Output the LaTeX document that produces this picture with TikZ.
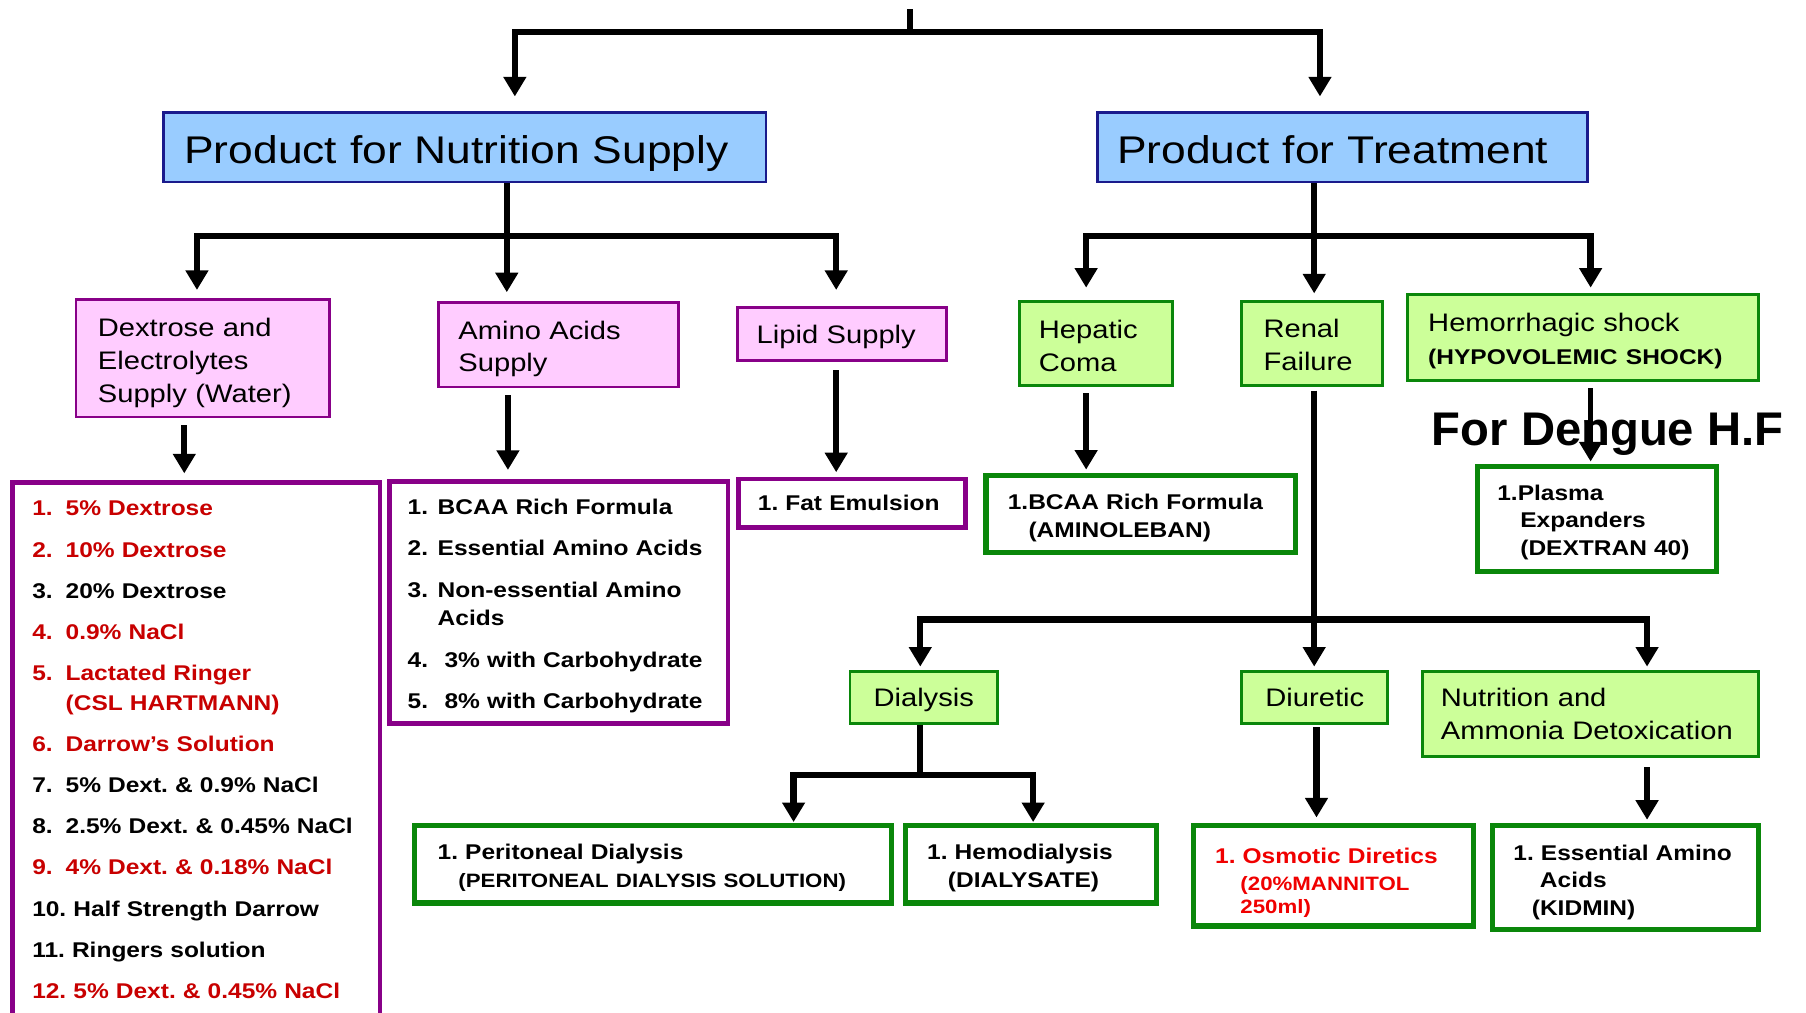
\documentclass[tikz,border=0pt]{standalone}
\usepackage{fontspec}
\setmainfont{Liberation Sans}[FakeStretch=1.15]
\newfontfamily\denguefont{Liberation Sans}
\usetikzlibrary{arrows.meta}

\definecolor{blueF}{HTML}{99CCFF}
\definecolor{navyD}{HTML}{1A1A8C}
\definecolor{pinkF}{HTML}{FFCCFF}
\definecolor{purpD}{HTML}{880088}
\definecolor{greenF}{HTML}{CCFF99}
\definecolor{greenD}{HTML}{0A870A}
\definecolor{redL}{HTML}{C80000}
\definecolor{redB}{HTML}{F00000}

\newcommand{\ttlfont}{\fontsize{33.5}{40}\selectfont}
\newcommand{\catfont}{\fontsize{22}{28.5}\selectfont}
\newcommand{\lstfont}{\fontsize{18.5}{26}\selectfont\bfseries}
\newcommand{\prdfont}{\fontsize{18.5}{24}\selectfont\bfseries}
\newcommand{\smlfont}{\fontsize{16.8}{20}\selectfont}
\newcommand{\topfix}[1]{\rule{0pt}{#1}}

\tikzset{
  conn/.style={line width=5.5pt},
  arr/.style={line width=5.5pt, -{Triangle[width=19pt,length=17pt]}},
  titlebox/.style={draw=navyD, fill=blueF, line width=2.5pt, font=\ttlfont, align=left, inner ysep=0pt, text height=30pt, text depth=2pt},
  pinkbox/.style={draw=purpD, fill=pinkF, line width=2.5pt, font=\catfont, align=left, inner ysep=0pt},
  greenbox/.style={draw=greenD, fill=greenF, line width=2.5pt, font=\catfont, align=left, inner ysep=0pt},
  oneline/.style={text height=17.8pt, text depth=2pt},
  listbox/.style={draw=purpD, fill=white, line width=4pt, font=\lstfont, align=left, inner ysep=0pt},
  prodbox/.style={draw=greenD, fill=white, line width=4.5pt, font=\prdfont, align=left, inner ysep=0pt},
}

\begin{document}
\frenchspacing
\begin{tikzpicture}[x=1pt, y=-1pt]
  \useasboundingbox (0,0) rectangle (1568,879.5);
  \clip (0,0) rectangle (1568,879.5);

  % two main groups
  \node[titlebox, minimum width=523pt, minimum height=60pt, inner xsep=18pt, text width=487pt] (nut) at (403.5,128) {Product for Nutrition Supply};
  \node[titlebox, minimum width=425pt, minimum height=60pt, inner xsep=17pt, text width=391pt] (trt) at (1165.5,128) {Product for Treatment};

  % nutrition supply
  \node[pinkbox, minimum width=220pt, minimum height=102pt, inner xsep=19pt, text width=182pt] (dex) at (176,311) {\topfix{24pt}Dextrose and\\Electrolytes\\Supply (Water)};
  \node[pinkbox, minimum width=208pt, minimum height=73pt, inner xsep=17pt, text width=174pt] (amino) at (485,299.5) {\topfix{23pt}Amino Acids\\Supply};
  \node[pinkbox, oneline, minimum width=182pt, minimum height=46pt, inner xsep=17pt, text width=148pt] (lipid) at (731,290) {Lipid Supply};

  \node[listbox, minimum width=319pt, minimum height=464pt, inner xsep=17pt, text width=285pt] (dexlist) at (170.5,651) {%
    \color{redL}\makebox[29pt][l]{1.}5\% Dextrose\\[9.7pt]
    \makebox[29pt][l]{2.}10\% Dextrose\\[9.7pt]
    \color{black}\makebox[29pt][l]{3.}20\% Dextrose\\[9.7pt]
    \color{redL}\makebox[29pt][l]{4.}0.9\% NaCl\\[9.7pt]
    \makebox[29pt][l]{5.}Lactated Ringer\\
    \hspace*{29pt}(CSL HARTMANN)\\[9.7pt]
    \makebox[29pt][l]{6.}Darrow's Solution\\[9.7pt]
    \color{black}\makebox[29pt][l]{7.}5\% Dext. \& 0.9\% NaCl\\[9.7pt]
    \makebox[29pt][l]{8.}2.5\% Dext. \& 0.45\% NaCl\\[9.7pt]
    \color{redL}\makebox[29pt][l]{9.}4\% Dext. \& 0.18\% NaCl\\[9.7pt]
    \color{black}10. Half Strength Darrow\\[9.7pt]
    11. Ringers solution\\[9.7pt]
    \color{redL}12. 5\% Dext. \& 0.45\% NaCl};
  \node[listbox, font=\fontsize{18.5}{25}\selectfont\bfseries, minimum width=294pt, minimum height=210pt, inner xsep=16pt, text width=262pt] (aminolist) at (485,523) {%
    \topfix{19.5pt}\makebox[26pt][l]{1.}BCAA Rich Formula\\[11pt]
    \makebox[26pt][l]{2.}Essential Amino Acids\\[11pt]
    \makebox[26pt][l]{3.}Non-essential Amino\\
    \hspace*{26pt}Acids\\[11pt]
    \makebox[32pt][l]{4.}3\% with Carbohydrate\\[11pt]
    \makebox[32pt][l]{5.}8\% with Carbohydrate};
  \node[listbox, text height=15.2pt, text depth=2pt, minimum width=197pt, minimum height=42pt, inner xsep=17pt, text width=163pt] (fat) at (739.5,437) {1. Fat Emulsion};

  % treatment
  \node[greenbox, minimum width=133pt, minimum height=73pt, inner xsep=17pt, text width=99pt] (hep) at (951.5,298.5) {\topfix{20pt}Hepatic\\Coma};
  \node[greenbox, minimum width=122pt, minimum height=73pt, inner xsep=19pt, text width=84pt] (renal) at (1139,298.5) {\topfix{18pt}Renal\\Failure};
  \node[greenbox, minimum width=305pt, minimum height=74pt, inner xsep=18pt, text width=269pt] (hemo) at (1374.5,293) {\topfix{22pt}Hemorrhagic shock\\{\bfseries\fontsize{18.5}{29}\selectfont(HYPOVOLEMIC SHOCK)}};

  \node[prodbox, minimum width=269pt, minimum height=67pt, inner xsep=19pt, text width=231pt] (hepprod) at (990.5,446.5) {\topfix{19.5pt}1.BCAA Rich Formula\\\hspace*{18pt}(AMINOLEBAN)};
  \node[prodbox, minimum width=207pt, minimum height=91pt, inner xsep=17pt, text width=173pt] (plasma) at (1386.5,450.5) {\topfix{19.5pt}1.Plasma\\\hspace*{20pt}Expanders\\\hspace*{20pt}(DEXTRAN 40)};
  \node[anchor=base west, inner sep=0pt, font=\denguefont\bfseries\fontsize{41}{45}\selectfont] (dengue) at (1243,387) {For Dengue H.F};

  % renal failure branches
  \node[greenbox, oneline, align=center, minimum width=128pt, minimum height=45pt, inner xsep=14pt, text width=100pt] (dial) at (802,605.5) {Dialysis};
  \node[greenbox, oneline, align=center, minimum width=127pt, minimum height=45pt, inner xsep=13.5pt, text width=100pt] (diur) at (1141.5,605.5) {Diuretic};
  \node[greenbox, minimum width=292pt, minimum height=74pt, inner xsep=16pt, text width=260pt] (ammo) at (1381,620) {Nutrition and\\Ammonia Detoxication};

  \node[prodbox, minimum width=414pt, minimum height=67pt, inner xsep=20pt, text width=374pt] (perit) at (567,750.5) {\topfix{19.5pt}1. Peritoneal Dialysis\\{\smlfont\hspace*{18pt}(PERITONEAL DIALYSIS SOLUTION)}};
  \node[prodbox, minimum width=218pt, minimum height=67pt, inner xsep=19pt, text width=180pt] (hemod) at (895,750.5) {\topfix{19.5pt}1. Hemodialysis\\\hspace*{18pt}(DIALYSATE)};
  \node[prodbox, text=redB, font=\fontsize{18.5}{23}\selectfont\bfseries, minimum width=243pt, minimum height=87pt, inner xsep=19pt, text width=205pt] (osm) at (1157.5,760.5) {\topfix{25.5pt}1. Osmotic Diretics\\{\smlfont\hspace*{22pt}(20\%MANNITOL}\\[-3pt]{\smlfont\hspace*{22pt}250ml)}};
  \node[prodbox, minimum width=231pt, minimum height=90pt, inner xsep=18pt, text width=195pt] (kid) at (1411.5,762) {\topfix{21.5pt}1. Essential Amino\\\hspace*{23pt}Acids\\\hspace*{16pt}(KIDMIN)};

  % connectors: top
  \coordinate (root) at (790,8);
  \coordinate (rootJ) at (790,28);
  \draw[conn] (root) -- (rootJ);
  \draw[arr, shorten >=13pt] (rootJ) -| (nut.north -| 447,0);
  \draw[arr, shorten >=13pt] (rootJ) -| (trt.north -| 1146,0);

  % connectors: nutrition supply
  \coordinate (nutJ) at (440,205);
  \draw[arr, shorten >=8pt] (nut.south -| nutJ) -- (amino.north -| nutJ);
  \draw[arr, shorten >=7pt] (nutJ) -| (dex.north -| 171,0);
  \draw[arr, shorten >=14pt] (nutJ) -| (lipid.north -| 726,0);
  \draw[arr, shorten <=6pt, shorten >=6pt] (dex.south -| 160,0) -- (dexlist.north -| 160,0);
  \draw[arr, shorten <=6pt, shorten >=8pt] (amino.south -| 441,0) -- (aminolist.north -| 441,0);
  \draw[arr, shorten <=7pt, shorten >=4pt] (lipid.south -| 726,0) -- (fat.north -| 726,0);

  % connectors: treatment
  \coordinate (trtJ) at (1141,205);
  \draw[arr, shorten >=6pt] (trt.south -| trtJ) -- (renal.north -| trtJ);
  \draw[arr, shorten >=11pt] (trtJ) -| (hep.north -| 943,0);
  \draw[arr, shorten >=5pt] (trtJ) -| (hemo.north -| 1381,0);
  \draw[arr, shorten <=5pt, shorten >=3pt] (hep.south -| 943,0) -- (hepprod.north -| 943,0);
  \draw[arr, line width=4.5pt, shorten <=6pt, shorten >=2pt] (hemo.south -| 1381,0) -- (plasma.north -| 1381,0);

  % connectors: renal failure
  \coordinate (renJ) at (1141,538);
  \draw[arr, shorten <=3pt, shorten >=3pt] (renal.south -| renJ) -- (diur.north -| renJ);
  \draw[arr, shorten >=3pt] (renJ) -| (dial.north -| 799,0);
  \draw[arr, shorten >=3pt] (renJ) -| (ammo.north -| 1430,0);
  \coordinate (dialJ) at (799,673);
  \draw[conn] (dial.south -| dialJ) -- (dialJ);
  \draw[arr, shorten >=1pt] (dialJ) -| (perit.north -| 689,0);
  \draw[arr, shorten >=1pt] (dialJ) -| (hemod.north -| 897,0);
  \draw[arr, shorten <=2pt, shorten >=5pt] (diur.south -| 1143,0) -- (osm.north -| 1143,0);
  \draw[arr, shorten <=8pt, shorten >=3pt] (ammo.south -| 1430,0) -- (kid.north -| 1430,0);
\end{tikzpicture}
\end{document}
